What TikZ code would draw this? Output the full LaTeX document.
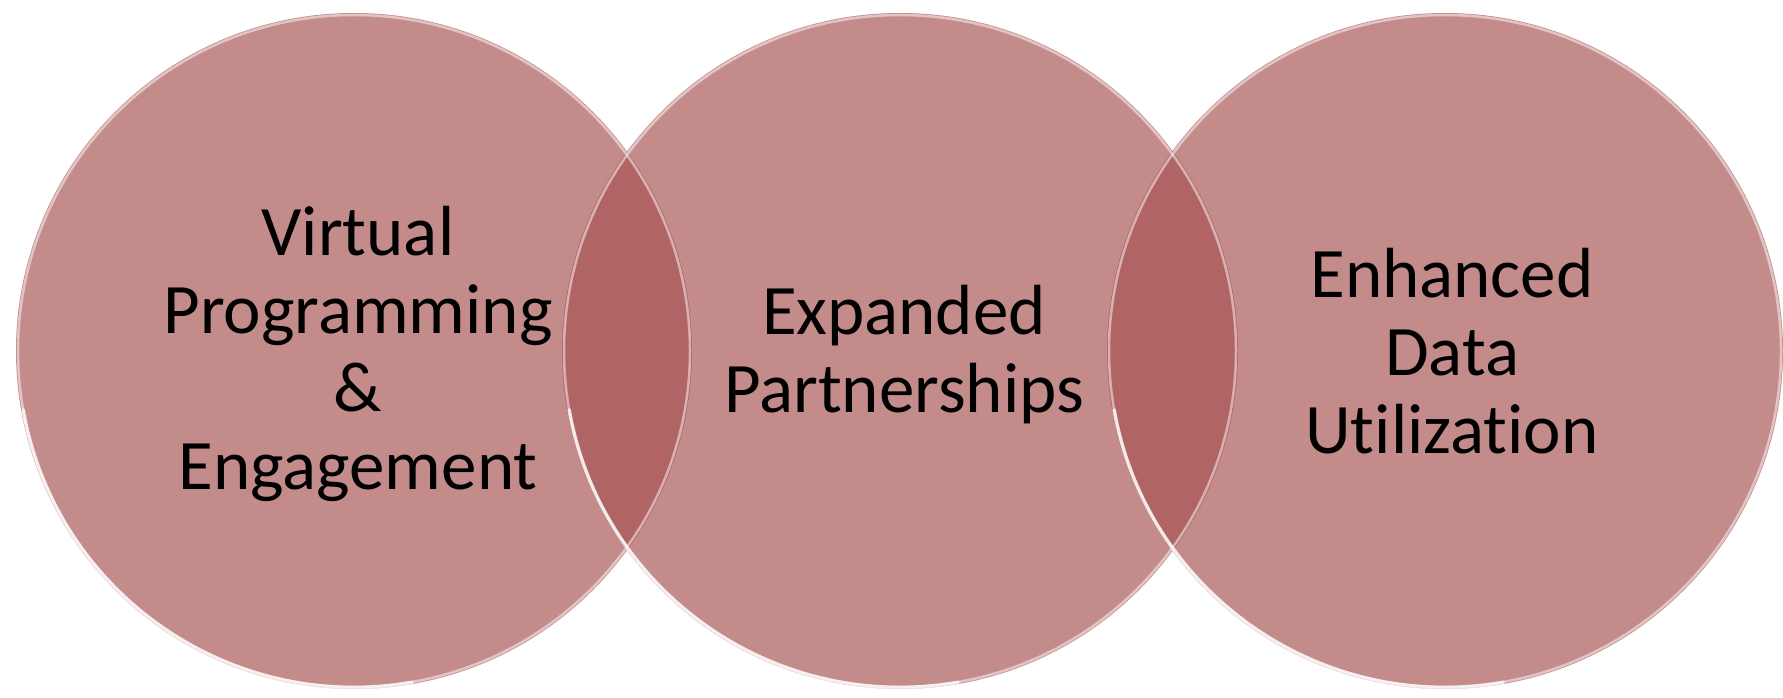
\documentclass[tikz,border=0pt]{standalone}
\usepackage{fontspec}
\setmainfont{Carlito}[Ligatures=NoCommon]
\definecolor{circfill}{RGB}{166,79,79}
\begin{document}
\begin{tikzpicture}[x=1pt,y=1pt,
  disc/.style={circle, minimum size=676pt, inner sep=0pt, outer sep=0pt,
    fill=circfill, fill opacity=0.66},
  rim/.style={draw=white, draw opacity=0.5, line width=2.5pt},
  shine/.style={draw=white, draw opacity=0.75, line width=3.5pt, line cap=round},
  lbl/.style={align=center, font=\fontsize{71}{78}\selectfont, text=black, inner sep=0pt}]
\useasboundingbox (0,0) rectangle (1783,697);
% circles
\node[disc] (c1) at (354,346) {};
\node[disc] (c2) at (900,346) {};
\node[disc] (c3) at (1445,346) {};
% rims
\foreach \c in {c1,c2,c3}{
  \draw[rim] (\c.center) circle[radius=336pt];
  \draw[shine] (\c.190) ++(2pt,0) arc[start angle=190, end angle=280, radius=336pt];
}
% labels
\node[lbl] (t1) at (358,343) {Virtual\\Programming\\\&\\Engagement};
\node[lbl] (t2) at (904,342) {Expanded\\Partnerships};
\node[lbl] (t3) at (1452,346) {Enhanced\\Data\\Utilization};
\end{tikzpicture}
\end{document}
